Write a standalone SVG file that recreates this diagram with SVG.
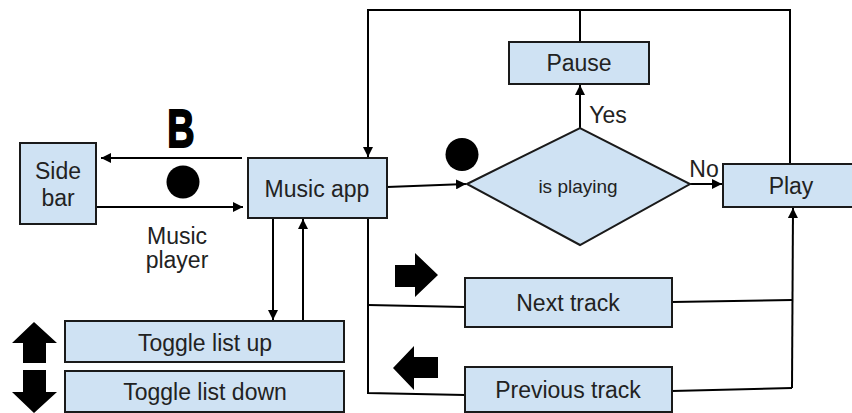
<svg xmlns="http://www.w3.org/2000/svg" width="852" height="413" viewBox="0 0 852 413">
<defs>
<marker id="ah" viewBox="0 0 10 10" refX="10" refY="5" markerWidth="10" markerHeight="10" markerUnits="userSpaceOnUse" orient="auto">
<path d="M0,0 L10,5 L0,10 Z" fill="#000"/>
</marker>
</defs>
<style>
.box{fill:#cfe2f3;stroke:#1a1a1a;stroke-width:2}
.t{font-family:"Liberation Sans",Arial,sans-serif;font-size:23px;fill:#222;text-anchor:middle}
.ln{fill:none;stroke:#000;stroke-width:2}
.arr{fill:none;stroke:#000;stroke-width:2;marker-end:url(#ah)}
.blk{fill:#000}
</style>
<rect width="852" height="413" fill="#fff"/>
<g id="connectors">
<path class="arr" d="M242,158 L101,158"/>
<path class="arr" d="M96,207 L243,207"/>
<path class="arr" d="M790,164 L790,10 L368,10 L368,157"/>
<path class="ln" d="M580,42 L580,10"/>
<path class="arr" d="M387,187 L466,184"/>
<path class="arr" d="M580,128 L580,85"/>
<path class="arr" d="M690,184 L722,184"/>
<path class="arr" d="M273,218 L273,320"/>
<path class="arr" d="M303,321 L303,219"/>
<path class="ln" d="M368,218 L368,393 L465,395"/>
<path class="ln" d="M368,305 L465,307"/>
<path class="ln" d="M672,302 L792,300"/>
<path class="ln" d="M672,391 L792,388"/>
<path class="arr" d="M792,388 L793,208"/>
</g>
<g id="sidebar">
<rect class="box" x="20" y="143" width="76" height="81"/>
<text class="t" x="58" y="179">Side</text>
<text class="t" x="58" y="206">bar</text>
</g>
<g id="musicapp">
<rect class="box" x="248" y="158" width="139" height="60"/>
<text class="t" x="317" y="197">Music app</text>
</g>
<g id="label-b">
<text x="0" y="0" transform="translate(181,147) scale(0.7,1)" font-family="'Liberation Sans',Arial,sans-serif" font-weight="bold" font-size="54" text-anchor="middle" fill="#000" stroke="#000" stroke-width="2">B</text>
</g>
<g id="dot1"><circle class="blk" cx="183" cy="182" r="16.5"/></g>
<g id="musicplayer-label">
<text class="t" x="177" y="244">Music</text>
<text class="t" x="177" y="268">player</text>
</g>
<g id="pause">
<rect class="box" x="509" y="42" width="140" height="42"/>
<text class="t" x="579" y="71">Pause</text>
</g>
<g id="isplaying">
<polygon class="box" points="467,184 580,128 690,184 580,245"/>
<text class="t" x="578" y="193" style="font-size:19px">is playing</text>
</g>
<g id="dot2"><circle class="blk" cx="462" cy="154.5" r="16.5"/></g>
<g id="yes-label"><text class="t" x="608" y="123">Yes</text></g>
<g id="no-label"><text class="t" x="704" y="177">No</text></g>
<g id="play">
<rect class="box" x="723" y="164" width="140" height="43"/>
<text class="t" x="791" y="194">Play</text>
</g>
<g id="nexttrack">
<rect class="box" x="465" y="278" width="207" height="49"/>
<text class="t" x="568" y="311">Next track</text>
</g>
<g id="prevtrack">
<rect class="box" x="465" y="367" width="207" height="45"/>
<text class="t" x="568" y="398">Previous track</text>
</g>
<g id="toggleup">
<rect class="box" x="65" y="321" width="279" height="41"/>
<text class="t" x="205" y="351">Toggle list up</text>
</g>
<g id="toggledown">
<rect class="box" x="65" y="371" width="279" height="41"/>
<text class="t" x="205" y="400">Toggle list down</text>
</g>
<g id="icon-up"><polygon class="blk" points="34,322 57,343 46,343 46,363 23,363 23,343 12,343"/></g>
<g id="icon-down"><polygon class="blk" points="23,370 46,370 46,392 57,392 34,413 12,392 23,392"/></g>
<g id="icon-right"><polygon class="blk" points="395,265 415,265 415,253 438,275 415,297 415,287 395,287"/></g>
<g id="icon-left"><polygon class="blk" points="438,357 414,357 414,346 393,368 414,390 414,378 438,378"/></g>
</svg>
